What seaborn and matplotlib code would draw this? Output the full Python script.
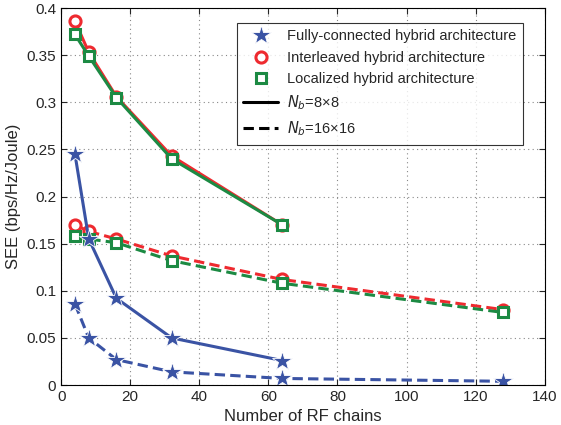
import matplotlib
matplotlib.use("Agg")
import matplotlib.pyplot as plt
import seaborn as sns
import pandas as pd
from matplotlib.lines import Line2D

sns.set_style("ticks")
plt.rcParams['font.family'] = ['Liberation Sans', 'DejaVu Sans']

x8 = [4, 8, 16, 32, 64]
x16 = [4, 8, 16, 32, 64, 128]
full_8 = [0.245, 0.155, 0.092, 0.050, 0.026]
full_16 = [0.086, 0.050, 0.027, 0.014, 0.007, 0.004]
inter_8 = [0.386, 0.353, 0.306, 0.243, 0.170]
inter_16 = [0.170, 0.163, 0.155, 0.137, 0.112, 0.080]
local_8 = [0.372, 0.349, 0.305, 0.240, 0.170]
local_16 = [0.158, 0.155, 0.151, 0.132, 0.108, 0.077]

labels = ["Fully-connected hybrid architecture",
          "Interleaved hybrid architecture",
          "Localized hybrid architecture"]
x_ticks = [0, 20, 40, 60, 80, 100, 120, 140]
y_ticks = [0, 0.05, 0.1, 0.15, 0.2, 0.25, 0.3, 0.35, 0.4]
y_ticklabels = ["0", "0.05", "0.1", "0.15", "0.2", "0.25", "0.3", "0.35", "0.4"]

blue = "#3a53a4"
red = "#ee2a2f"
green = "#1c8a43"

fig = plt.figure(figsize=(5.61, 4.25), dpi=100)
ax = fig.add_axes([0.109, 0.094, 0.862, 0.887])

series = [
    (x8, inter_8, red, '-', 'o'),
    (x16, inter_16, red, '--', 'o'),
    (x8, local_8, green, '-', 's'),
    (x16, local_16, green, '--', 's'),
    (x8, full_8, blue, '-', '*'),
    (x16, full_16, blue, '--', '*'),
]
for xs, ys, c, ls, m in series:
    df = pd.DataFrame({"x": xs, "y": ys})
    if m == '*':
        mk = dict(marker='*', markersize=15, markerfacecolor=c, markeredgecolor='white', markeredgewidth=0.6)
    elif m == 'o':
        mk = dict(marker='o', markersize=8, markerfacecolor='white', markeredgecolor=c, markeredgewidth=2.2)
    else:
        mk = dict(marker='s', markersize=7, markerfacecolor='white', markeredgecolor=c, markeredgewidth=2.2)
    sns.lineplot(data=df, x="x", y="y", ax=ax, color=c, linestyle=ls, linewidth=2.2, **mk)

for ln in ax.lines:
    if ln.get_linestyle() == '--':
        ln.set_dashes((3.4, 1.7))

ax.set_xlim(0, 140)
ax.set_ylim(0, 0.4)
ax.set_xticks(x_ticks)
ax.set_yticks(y_ticks)
ax.set_yticklabels(y_ticklabels)
ax.grid(True, linestyle=(0, (1, 3)), color='#888888', linewidth=0.8)
ax.tick_params(direction='in', length=4, labelsize=11, top=True, right=True)
for s in ax.spines.values():
    s.set_color('black')
    s.set_linewidth(0.8)
ax.set_xlabel("Number of RF chains", fontsize=12)
ax.set_ylabel("SEE (bps/Hz/Joule)", fontsize=12)

handles = [
    Line2D([], [], linestyle='none', marker='*', markersize=15, color=blue, markeredgecolor='white', markeredgewidth=0.6),
    Line2D([], [], linestyle='none', marker='o', markersize=8, markerfacecolor='white', markeredgecolor=red, markeredgewidth=2.2),
    Line2D([], [], linestyle='none', marker='s', markersize=7, markerfacecolor='white', markeredgecolor=green, markeredgewidth=2.2),
    Line2D([], [], color='black', linestyle='-', linewidth=2.2),
    Line2D([], [], color='black', linestyle=(0, (3.4, 1.7)), linewidth=2.2),
]
leg_labels = labels + [r"$N_b$=8×8", r"$N_b$=16×16"]
leg = ax.legend(handles, leg_labels, loc='upper right', bbox_to_anchor=(0.97, 0.98),
                fontsize=10.5, frameon=True, fancybox=False, edgecolor='black',
                handlelength=2.4, borderpad=0.45, labelspacing=0.5, handletextpad=0.6)
leg.get_frame().set_linewidth(0.8)

fig.savefig("out.png", dpi=100)
